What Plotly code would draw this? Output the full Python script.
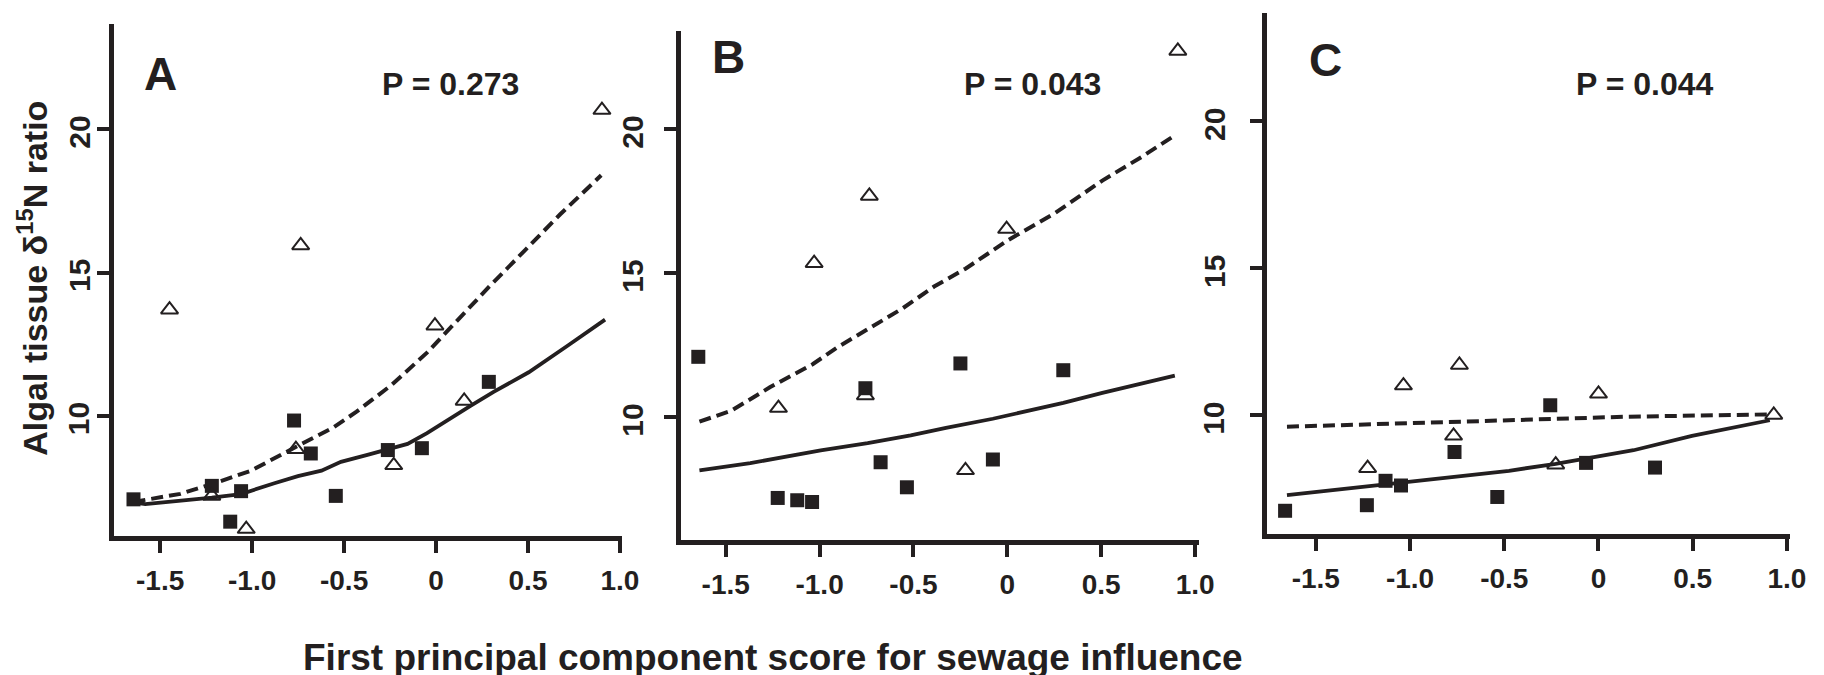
import plotly.graph_objects as go

# ---- data: first principal component score (x) vs algal tissue d15N (y) ----
# Panel A
a_sq_x = [-1.645, -1.219, -1.06, -1.119, -0.772, -0.681, -0.545, -0.262, -0.077, 0.287]
a_sq_y = [7.09, 7.56, 7.375, 6.31, 9.84, 8.69, 7.21, 8.81, 8.875, 11.19]
a_tri_x = [-1.449, -1.219, -1.032, -0.736, -0.762, -0.23, -0.006, 0.153, 0.902]
a_tri_y = [13.71, 7.21, 6.05, 15.95, 8.84, 8.275, 13.15, 10.525, 20.675]
a_fit_solid_x = [-1.645, -1.581, -1.219, -1.06, -0.879, -0.751, -0.623, -0.517, -0.368, -0.262,
                 -0.155, -0.049, 0.057, 0.185, 0.313, 0.504, 0.717, 0.919]
a_fit_solid_y = [6.98, 6.92, 7.15, 7.275, 7.65, 7.9, 8.09, 8.4, 8.65, 8.84,
                 9.025, 9.4, 9.84, 10.34, 10.84, 11.525, 12.46, 13.36]
a_fit_dash_x = [-1.645, -1.39, -1.177, -1.006, -0.75, -0.56, -0.432, -0.24, -0.049, 0.079, 0.29, 0.483, 0.674, 0.898]
a_fit_dash_y = [7.0, 7.28, 7.71, 8.09, 8.96, 9.59, 10.15, 11.09, 12.21, 13.09, 14.52, 15.78, 17.03, 18.4]

# Panel B
b_sq_x = [-1.646, -1.223, -1.119, -1.04, -0.756, -0.675, -0.535, -0.25, -0.077, 0.298]
b_sq_y = [12.09, 7.19, 7.11, 7.05, 11.0, 8.43, 7.56, 11.86, 8.525, 11.625]
b_tri_x = [-1.219, -1.029, -0.735, -0.756, -0.223, -0.004, 0.908]
b_tri_y = [10.31, 15.34, 17.675, 10.75, 8.15, 16.525, 22.71]
b_fit_solid_x = [-1.64, -1.369, -0.994, -0.744, -0.515, -0.327, -0.077, 0.09, 0.298, 0.506, 0.715, 0.892]
b_fit_solid_y = [8.15, 8.4, 8.84, 9.09, 9.36, 9.625, 9.94, 10.19, 10.49, 10.84, 11.18, 11.44]
b_fit_dash_x = [-1.64, -1.473, -1.265, -1.035, -0.91, -0.744, -0.556, -0.39, -0.223, 0.006, 0.256, 0.506, 0.715, 0.892]
b_fit_dash_y = [9.84, 10.21, 11.03, 11.84, 12.4, 13.03, 13.78, 14.53, 15.15, 16.15, 17.09, 18.21, 19.03, 19.78]

# Panel C
c_sq_x = [-1.663, -1.229, -1.13, -1.048, -0.764, -0.537, -0.256, -0.066, 0.30]
c_sq_y = [6.74, 6.93, 7.76, 7.60, 8.74, 7.21, 10.33, 8.37, 8.21]
c_tri_x = [-1.225, -1.035, -0.738, -0.769, -0.227, 0.0, 0.93]
c_tri_y = [8.19, 11.0, 11.70, 9.29, 8.31, 10.72, 10.0]
c_fit_solid_x = [-1.653, -1.24, -1.033, -0.785, -0.475, -0.227, -0.041, 0.186, 0.496, 0.764, 0.909]
c_fit_solid_y = [7.27, 7.55, 7.70, 7.88, 8.10, 8.34, 8.56, 8.80, 9.29, 9.62, 9.82]
c_fit_dash_x = [-1.653, -1.095, -0.475, 0.145, 0.909]
c_fit_dash_y = [9.60, 9.69, 9.82, 9.94, 10.02]

panel_letters = ["A", "B", "C"]
p_values = ["P = 0.273", "P = 0.043", "P = 0.044"]

x_tick_vals = [-1.5, -1.0, -0.5, 0, 0.5, 1.0]
x_tick_text = ["-1.5", "-1.0", "-0.5", "0", "0.5", "1.0"]
y_tick_vals = [10, 15, 20]
y_tick_text = ["10", "15", "20"]

y_title = "Algal tissue δ<sup>15</sup>N ratio"
x_title = "First principal component score for sewage influence"

# ---- styling ----
W, H = 1824, 675
INK = "#231f20"
FONT = "Liberation Sans, Arial, Helvetica, sans-serif"


def px_x(p):
    return p / W


def px_y(p):
    return 1 - p / H


panels = [
    dict(sq=(a_sq_x, a_sq_y), tri=(a_tri_x, a_tri_y),
         solid=(a_fit_solid_x, a_fit_solid_y), dash=(a_fit_dash_x, a_fit_dash_y),
         xdom=(115.5, 628), ydom=(536, 24), xr=(-1.749, 1.01), yr=(5.81, 23.68),
         letter_at=(162, 74), p_at=(455, 84), ylab_x=80),
    dict(sq=(b_sq_x, b_sq_y), tri=(b_tri_x, b_tri_y),
         solid=(b_fit_solid_x, b_fit_solid_y), dash=(b_fit_dash_x, b_fit_dash_y),
         xdom=(688, 1211), ydom=(540, 30.5), xr=(-1.737, 1.021), yr=(5.73, 23.42),
         letter_at=(736, 57), p_at=(1043, 84), ylab_x=638),
    dict(sq=(c_sq_x, c_sq_y), tri=(c_tri_x, c_tri_y),
         solid=(c_fit_solid_x, c_fit_solid_y), dash=(c_fit_dash_x, c_fit_dash_y),
         xdom=(1280, 1808), ydom=(534, 12.6), xr=(-1.757, 1.017), yr=(5.95, 23.69),
         letter_at=(1339, 60), p_at=(1661, 84), ylab_x=1226),
]

fig = go.Figure()
annotations = []

for i, p in enumerate(panels):
    n = "" if i == 0 else str(i + 1)
    xa, ya = "x" + n, "y" + n

    fig.add_trace(go.Scatter(
        x=p["dash"][0], y=p["dash"][1], mode="lines", xaxis=xa, yaxis=ya,
        line=dict(color=INK, width=4, dash="12px,6px"),
        showlegend=False, hoverinfo="skip"))
    fig.add_trace(go.Scatter(
        x=p["solid"][0], y=p["solid"][1], mode="lines", xaxis=xa, yaxis=ya,
        line=dict(color=INK, width=3.8),
        showlegend=False, hoverinfo="skip"))
    fig.add_trace(go.Scatter(
        x=p["sq"][0], y=p["sq"][1], mode="markers", xaxis=xa, yaxis=ya,
        marker=dict(symbol="square", size=14, color=INK, line=dict(width=0)),
        cliponaxis=False, showlegend=False))
    fig.add_trace(go.Scatter(
        x=p["tri"][0], y=p["tri"][1], mode="markers", xaxis=xa, yaxis=ya,
        marker=dict(symbol="triangle-up-open", size=15, color=INK, line=dict(width=2, color=INK)),
        cliponaxis=False, showlegend=False))

    axis_common = dict(
        showline=True, linewidth=5, linecolor=INK, mirror=False,
        ticks="outside", ticklen=12, tickwidth=4, tickcolor=INK,
        showgrid=False, zeroline=False, fixedrange=True,
    )
    fig.update_layout(**{
        "xaxis" + n: dict(
            axis_common, domain=[px_x(p["xdom"][0]), px_x(p["xdom"][1])],
            range=list(p["xr"]), anchor=ya,
            tickvals=x_tick_vals, ticktext=x_tick_text, ticklabelstandoff=3,
            tickfont=dict(family=FONT, size=28, color=INK, weight="bold")),
        "yaxis" + n: dict(
            axis_common, domain=[px_y(p["ydom"][0]), px_y(p["ydom"][1])],
            range=list(p["yr"]), anchor=xa,
            tickvals=y_tick_vals, showticklabels=False),
    })

    # rotated y tick labels, placed at each tick value
    for v, t in zip(y_tick_vals, y_tick_text):
        annotations.append(dict(
            text=t, x=px_x(p["ylab_x"]), y=v, xref="paper", yref=ya,
            showarrow=False, textangle=-90, xanchor="center", yanchor="middle",
            yshift=-3, font=dict(family=FONT, size=30, color=INK, weight="bold")))

    annotations.append(dict(
        text=panel_letters[i], x=px_x(p["letter_at"][0]), y=px_y(p["letter_at"][1]),
        xref="paper", yref="paper", showarrow=False, xanchor="center", yanchor="middle",
        font=dict(family=FONT, size=46, color=INK, weight="bold")))
    annotations.append(dict(
        text=p_values[i], x=px_x(p["p_at"][0]), y=px_y(p["p_at"][1]),
        xref="paper", yref="paper", showarrow=False, xanchor="center", yanchor="middle",
        font=dict(family=FONT, size=32, color=INK, weight="bold")))

annotations.append(dict(
    text=y_title, x=px_x(32), y=px_y(278), xref="paper", yref="paper",
    showarrow=False, textangle=-90, xanchor="center", yanchor="middle",
    font=dict(family=FONT, size=34, color=INK, weight="bold")))
annotations.append(dict(
    text=x_title, x=px_x(781), y=px_y(657), xref="paper", yref="paper",
    showarrow=False, xanchor="center", yanchor="middle",
    font=dict(family=FONT, size=37, color=INK, weight="bold")))

fig.update_layout(
    width=W, height=H, margin=dict(l=0, r=0, t=0, b=0),
    paper_bgcolor="white", plot_bgcolor="white",
    annotations=annotations, showlegend=False,
)

fig.write_html("out.html")
